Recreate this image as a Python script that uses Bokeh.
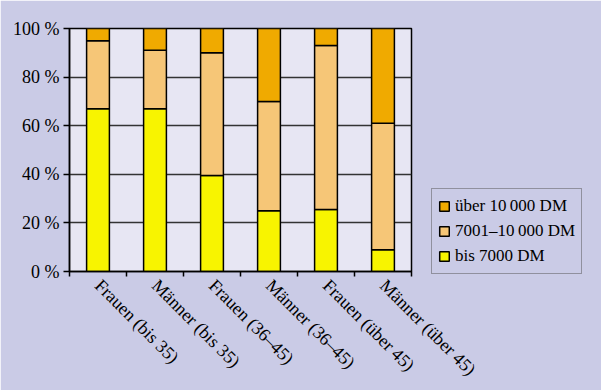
import math
from bokeh.plotting import figure
from bokeh.models import FixedTicker, Legend, LegendItem, ColumnDataSource, Range1d
from bokeh.embed import file_html
from bokeh.resources import INLINE

categories = ["Frauen (bis 35)", "Männer (bis 35)", "Frauen (36–45)",
              "Männer (36–45)", "Frauen (über 45)", "Männer (über 45)"]
bis_7000 = [67, 67, 39.5, 25, 25.5, 9]
von_7001 = [28, 24, 50.5, 45, 67.5, 52]
ueber_10000 = [5, 9, 10, 30, 7, 39]
series_names = ["bis 7000 DM", "7001–10\u2009000 DM", "über 10\u2009000 DM"]
series_colors = ["#F8F400", "#F6C677", "#F0AA00"]
y_ticks = [0, 20, 40, 60, 80, 100]
y_tick_labels = ["0 %", "20 %", "40 %", "60 %", "80 %", "100 %"]

FONT = "Liberation Serif"

positions = list(range(1, len(categories) + 1))
source = ColumnDataSource(dict(x=positions, a=bis_7000, b=von_7001, c=ueber_10000))

p = figure(frame_width=342, frame_height=243, output_backend="svg", toolbar_location=None,
           x_range=Range1d(0.5, len(categories) + 0.5), y_range=Range1d(0, 100),
           min_border_left=69, min_border_right=190, min_border_top=28,
           min_border_bottom=119)
p.border_fill_color = "#CACBE6"
p.background_fill_color = "#E7E6F3"
p.outline_line_color = "black"
p.outline_line_width = 1.5

renderers = p.vbar_stack(["a", "b", "c"], x="x", width=0.4, source=source,
                         fill_color=series_colors, line_color="black", line_width=1.5)

# axes
p.xgrid.visible = False
p.ygrid.grid_line_color = "#333333"
p.ygrid.grid_line_width = 1.3
p.ygrid.ticker = FixedTicker(ticks=y_ticks)

p.yaxis.ticker = FixedTicker(ticks=y_ticks)
p.yaxis.major_label_overrides = {t: l for t, l in zip(y_ticks, y_tick_labels)}
p.yaxis.major_label_text_font = FONT
p.yaxis.major_label_text_font_size = "18px"
p.yaxis.major_label_text_color = "black"
p.yaxis.major_tick_out = 6
p.yaxis.major_tick_in = 0
p.yaxis.minor_tick_line_color = None
p.yaxis.axis_line_color = "black"
p.yaxis.axis_line_width = 1.5
p.yaxis.major_tick_line_width = 1.5
p.yaxis.major_label_standoff = 4

boundaries = [i + 0.5 for i in range(len(categories) + 1)]
p.xaxis.ticker = FixedTicker(ticks=positions, minor_ticks=boundaries)
p.xaxis.major_label_overrides = {pos: c for pos, c in zip(positions, categories)}
p.xaxis.major_label_orientation = -math.pi / 4
p.xaxis.major_label_text_font = FONT
p.xaxis.major_label_text_font_size = "18px"
p.xaxis.major_label_text_color = "black"
p.xaxis.major_tick_out = 0
p.xaxis.major_tick_in = 0
p.xaxis.minor_tick_out = 5
p.xaxis.minor_tick_in = 0
p.xaxis.minor_tick_line_color = "black"
p.xaxis.minor_tick_line_width = 1.5
p.xaxis.axis_line_color = "black"
p.xaxis.axis_line_width = 1.5
p.xaxis.major_label_standoff = 6

legend = Legend(items=[LegendItem(label=series_names[i], renderers=[renderers[i]])
                       for i in (2, 1, 0)],
                location=(20, -3))
legend.label_text_font = FONT
legend.label_text_font_size = "17px"
legend.label_text_color = "black"
legend.glyph_width = 12
legend.glyph_height = 12
legend.label_height = 22
legend.spacing = 3
legend.padding = 6
legend.margin = 0
legend.border_line_color = "#555555"
legend.border_line_width = 1.5
legend.background_fill_color = "#CACBE6"
legend.background_fill_alpha = 1
p.add_layout(legend, "right")

open("out.html", "w").write(file_html(p, INLINE))
